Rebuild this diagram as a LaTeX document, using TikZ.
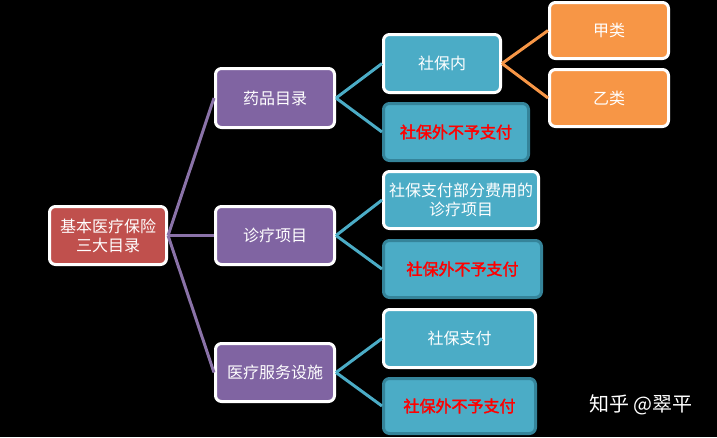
\documentclass[tikz,border=0pt]{standalone}
\usepackage{fontspec}
\setmainfont{Noto Sans CJK SC}
\newfontfamily\redbold{Noto Sans CJK SC}[FakeBold=2]
\definecolor{cred}{HTML}{C0504D}
\definecolor{cpurple}{HTML}{8064A2}
\definecolor{cblue}{HTML}{4BACC6}
\definecolor{corange}{HTML}{F79646}
\definecolor{cborder}{HTML}{35849A}
\definecolor{cplin}{HTML}{8A72A8}
\tikzset{
  box/.style={draw=white, line width=3pt, rounded corners=6pt, inner sep=0pt, text=white, font=\fontsize{16}{19}\selectfont, align=center},
  rootbox/.style={box, fill=cred},
  pbox/.style={box, fill=cpurple},
  bbox/.style={box, fill=cblue},
  rbox/.style={box, fill=cblue, draw=cborder, text=red, font=\redbold\fontsize{16}{19}\selectfont},
  obox/.style={box, fill=corange},
  plink/.style={cplin, line width=3pt},
  blink/.style={cblue, line width=3pt},
  olink/.style={corange, line width=3pt},
}
\begin{document}
\begin{tikzpicture}[x=1pt,y=-1pt]
\fill[black] (0,0) rectangle (717,437);
\useasboundingbox (0,0) rectangle (717,437);
\node[rootbox, minimum width=117pt, minimum height=58pt] (root) at (108,235.5) {基本医疗保险\\三大目录};
\node[pbox, minimum width=119pt, minimum height=59pt] (p1) at (275,98) {药品目录};
\node[pbox, minimum width=119pt, minimum height=58pt] (p2) at (275,235.5) {诊疗项目};
\node[pbox, minimum width=119pt, minimum height=58pt] (p3) at (275,372.5) {医疗服务设施};
\node[bbox, minimum width=117pt, minimum height=58pt] (b1) at (442,63.5) {社保内};
\node[rbox, minimum width=145pt, minimum height=57pt] (r1) at (456,132) {社保外不予支付};
\node[bbox, minimum width=155pt, minimum height=57pt] (b2) at (461,200) {社保支付部分费用的\\诊疗项目};
\node[rbox, minimum width=158pt, minimum height=57pt] (r2) at (462.5,269) {社保外不予支付};
\node[bbox, minimum width=152pt, minimum height=58pt] (b3) at (459.5,338.5) {社保支付};
\node[rbox, minimum width=152pt, minimum height=55pt] (r3) at (459.5,406) {社保外不予支付};
\node[obox, minimum width=119pt, minimum height=56pt] (o1) at (609,30.5) {甲类};
\node[obox, minimum width=119pt, minimum height=57pt] (o2) at (609,98) {乙类};
\draw[plink] (root.east) -- (p1.west);
\draw[plink] (root.east) -- (p2.west);
\draw[plink] (root.east) -- (p3.west);
\draw[blink] (p1.east) -- (b1.west);
\draw[blink] (p1.east) -- (r1.west);
\draw[blink] (p2.east) -- (b2.west);
\draw[blink] (p2.east) -- (r2.west);
\draw[blink] (p3.east) -- (b3.west);
\draw[blink] (p3.east) -- (r3.west);
\draw[olink] (b1.east) -- (o1.west);
\draw[olink] (b1.east) -- (o2.west);
\node[text=white, font=\fontsize{20}{24}\selectfont, anchor=center] (wm) at (641,405) {知乎 @翠平};
\end{tikzpicture}
\end{document}
